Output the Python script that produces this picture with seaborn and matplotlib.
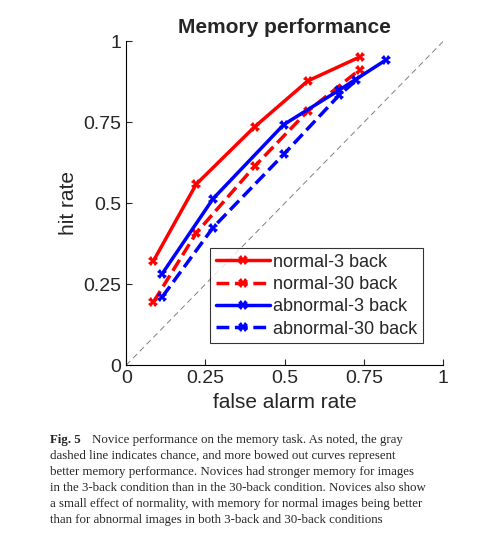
import matplotlib
matplotlib.use("Agg")
import matplotlib.pyplot as plt
import seaborn as sns
import pandas as pd

# ROC-style points
normal3_fa = [0.086, 0.221, 0.405, 0.573, 0.737]
normal3_hit = [0.322, 0.559, 0.736, 0.878, 0.952]
normal30_fa = [0.086, 0.221, 0.405, 0.573, 0.737]
normal30_hit = [0.195, 0.408, 0.614, 0.785, 0.913]
abn3_fa = [0.114, 0.274, 0.497, 0.671, 0.820]
abn3_hit = [0.283, 0.514, 0.743, 0.849, 0.943]
abn30_fa = [0.114, 0.274, 0.497, 0.671, 0.726]
abn30_hit = [0.211, 0.425, 0.651, 0.833, 0.880]

series = ["normal-3 back", "normal-30 back", "abnormal-3 back", "abnormal-30 back"]
colors = ["#ff0000", "#ff0000", "#0000ff", "#0000ff"]
styles = ["-", "--", "-", "--"]

rows = []
for name, fa, hit in zip(series, [normal3_fa, normal30_fa, abn3_fa, abn30_fa],
                         [normal3_hit, normal30_hit, abn3_hit, abn30_hit]):
    for f, h in zip(fa, hit):
        rows.append({"fa": f, "hit": h, "cond": name})
df = pd.DataFrame(rows)

sns.set_style("white")
plt.rcParams["font.family"] = ["Liberation Sans", "DejaVu Sans"]

fig = plt.figure(figsize=(4.78, 5.45), dpi=100)
ax = fig.add_axes([0.264, 0.330, 0.663, 0.594])
ax.plot([0, 1], [0, 1], color="gray", ls=(0, (6, 4)), lw=0.7)
for name, c, ls in zip(series, colors, styles):
    sub = df[df["cond"] == name]
    sns.lineplot(data=sub, x="fa", y="hit", ax=ax, color=c, marker="X",
                 markersize=7, markeredgewidth=0, lw=2.5, sort=False,
                 label=name, linestyle=ls, estimator=None)

ax.set_xlim(0, 1)
ax.set_ylim(0, 1)
ticks = [0, 0.25, 0.5, 0.75, 1]
labels = ["0", "0.25", "0.5", "0.75", "1"]
ax.set_xticks(ticks, labels)
ax.set_yticks(ticks, labels)
ax.tick_params(labelsize=14, direction="in", length=4, bottom=True, left=True)
for s in ["top", "right"]:
    ax.spines[s].set_visible(False)
for s in ["left", "bottom"]:
    ax.spines[s].set_color("black")
    ax.spines[s].set_linewidth(0.8)
ax.set_xlabel("false alarm rate", fontsize=15)
ax.set_ylabel("hit rate", fontsize=15)
ax.set_title("Memory performance", fontsize=15, fontweight="bold")
leg = ax.legend(loc="lower right", fontsize=13, frameon=True, fancybox=False,
                borderpad=0.3, handlelength=3, labelspacing=0.3,
                handletextpad=0.2, bbox_to_anchor=(0.965, 0.04))
leg.get_frame().set_edgecolor("black")
leg.get_frame().set_linewidth(0.8)

fig.text(50 / 478, 1 - 440 / 545, "Fig. 5", fontsize=9.3, fontweight="bold",
         family="Liberation Serif", va="center", ha="left")
caption = [
    "Novice performance on the memory task. As noted, the gray",
    "dashed line indicates chance, and more bowed out curves represent",
    "better memory performance. Novices had stronger memory for images",
    "in the 3-back condition than in the 30-back condition. Novices also show",
    "a small effect of normality, with memory for normal images being better",
    "than for abnormal images in both 3-back and 30-back conditions",
]
for i, line in enumerate(caption):
    x = 92 if i == 0 else 50
    fig.text(x / 478, 1 - (440 + i * 16) / 545, line, fontsize=9.3,
             family="Liberation Serif", va="center", ha="left")

fig.savefig("out.png", dpi=100)
